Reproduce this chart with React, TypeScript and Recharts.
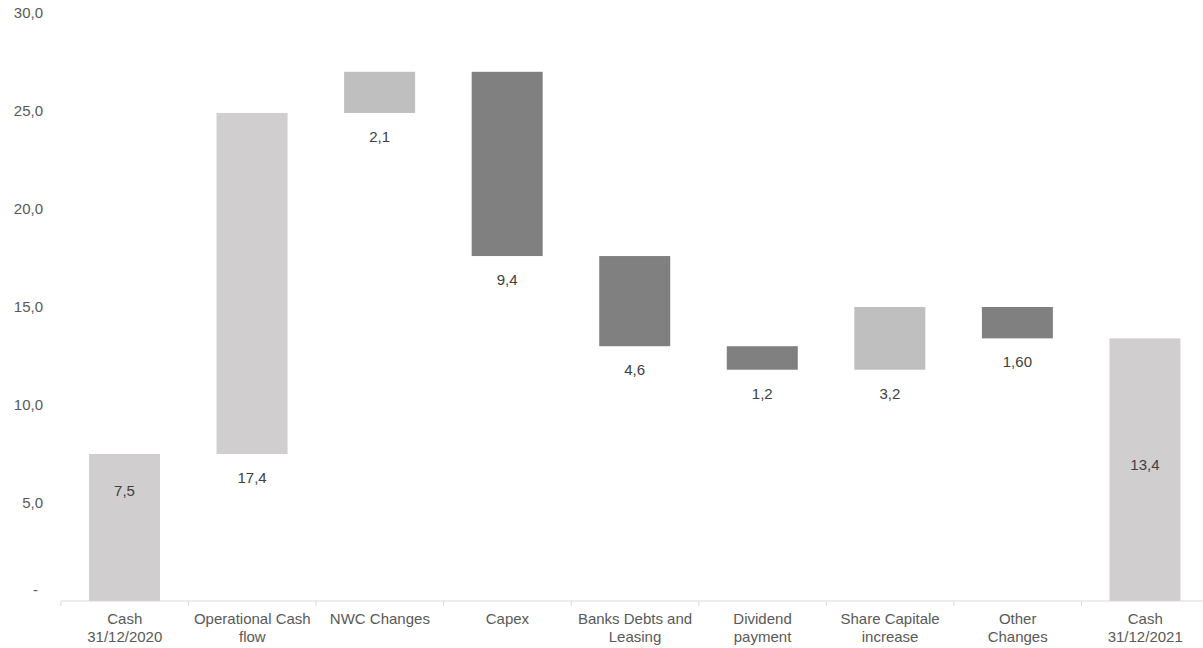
import React from "react";
import { BarChart, Bar, XAxis, YAxis } from "recharts";

const categories = [
  "Cash\n31/12/2020",
  "Operational Cash\nflow",
  "NWC Changes",
  "Capex",
  "Banks Debts and\nLeasing",
  "Dividend\npayment",
  "Share Capitale\nincrease",
  "Other\nChanges",
  "Cash\n31/12/2021",
];
const values = [7.5, 17.4, 2.1, -9.4, -4.6, -1.2, 3.2, -1.6, 13.4];
const valueLabels = ["7,5", "17,4", "2,1", "9,4", "4,6", "1,2", "3,2", "1,60", "13,4"];
const isTotal = [true, false, false, false, false, false, false, false, true];
const yTicks = [0, 5, 10, 15, 20, 25, 30];

const BAR_COLORS = [
  "#D0CECE",
  "#D0CECE",
  "#BFBFBF",
  "#808080",
  "#808080",
  "#808080",
  "#BFBFBF",
  "#808080",
  "#D0CECE",
];

const FONT = "'Liberation Sans', Arial, sans-serif";
const CHART_W = 1210;
const CHART_H = 648;
const MARGIN = { top: 13, right: 1, left: 0, bottom: 0 };
const Y_W = 61;
const PLOT_W = CHART_W - MARGIN.left - MARGIN.right - Y_W;

const data = (() => {
  let run = 0;
  return categories.map((name, i) => {
    let range: [number, number];
    if (isTotal[i]) {
      range = [0, values[i]];
      run = values[i];
    } else {
      const next = run + values[i];
      range = [Math.min(run, next), Math.max(run, next)];
      run = next;
    }
    return { name, range, label: valueLabels[i] };
  });
})();

const XTick = (props: any) => {
  const { x, y, payload, index } = props;
  const band = PLOT_W / categories.length;
  const lines = String(payload.value).split("\n");
  const bx = x - band / 2;
  return (
    <g>
      <line x1={bx} y1={y} x2={bx} y2={y + 5} stroke="#D9D9D9" strokeWidth={1} />
      <text textAnchor="middle" fontFamily={FONT} fontSize={15} fill="#595959">
        {lines.map((l, k) => (
          <tspan key={k} x={x} y={y + 22.5 + k * 18}>
            {l}
          </tspan>
        ))}
      </text>
    </g>
  );
};

const YTick = (props: any) => {
  const { x, y, payload } = props;
  const v = payload.value as number;
  const txt = v === 0 ? "-" : v.toFixed(1).replace(".", ",");
  const dx = v === 0 ? -5 : 0;
  const dy = v === 0 ? -11 : 0;
  return (
    <text
      x={x + dx}
      y={y + 5 + dy}
      textAnchor="end"
      fontFamily={FONT}
      fontSize={15}
      fill="#595959"
    >
      {txt}
    </text>
  );
};

const BarShape = (props: any) => {
  const { x, y, width, height, index } = props;
  const top = Math.min(y, y + height);
  const bottom = Math.max(y, y + height);
  const cx = x + width / 2;
  let ty: number;
  if (index === 0) ty = top + 37;
  else if (index === categories.length - 1) ty = (top + bottom) / 2 - 5;
  else ty = bottom + 24;
  return (
    <g>
      <rect x={x} y={top} width={width} height={bottom - top} fill={BAR_COLORS[index]} />
      <text
        x={cx}
        y={ty + 5}
        textAnchor="middle"
        fontFamily={FONT}
        fontSize={15}
        fill="#404040"
      >
        {data[index].label}
      </text>
    </g>
  );
};

export default function App() {
  return (
    <div
      style={{
        position: "absolute",
        left: 0,
        top: 0,
        width: 1203,
        height: 648,
        overflow: "hidden",
        background: "#fff",
      }}
    >
      <BarChart width={CHART_W} height={CHART_H} data={data} margin={MARGIN} barSize={71}>
        <YAxis
          type="number"
          domain={[0, 30]}
          ticks={yTicks}
          width={Y_W}
          axisLine={false}
          tickLine={false}
          tickSize={0}
          tickMargin={18}
          tick={<YTick />}
          interval={0}
        />
        <XAxis
          dataKey="name"
          height={47}
          interval={0}
          tickLine={false}
          tickSize={0}
          tickMargin={0}
          axisLine={{ stroke: "#D9D9D9", strokeWidth: 1 }}
          tick={<XTick />}
        />
        <Bar dataKey="range" isAnimationActive={false} shape={<BarShape />} />
      </BarChart>
    </div>
  );
}
